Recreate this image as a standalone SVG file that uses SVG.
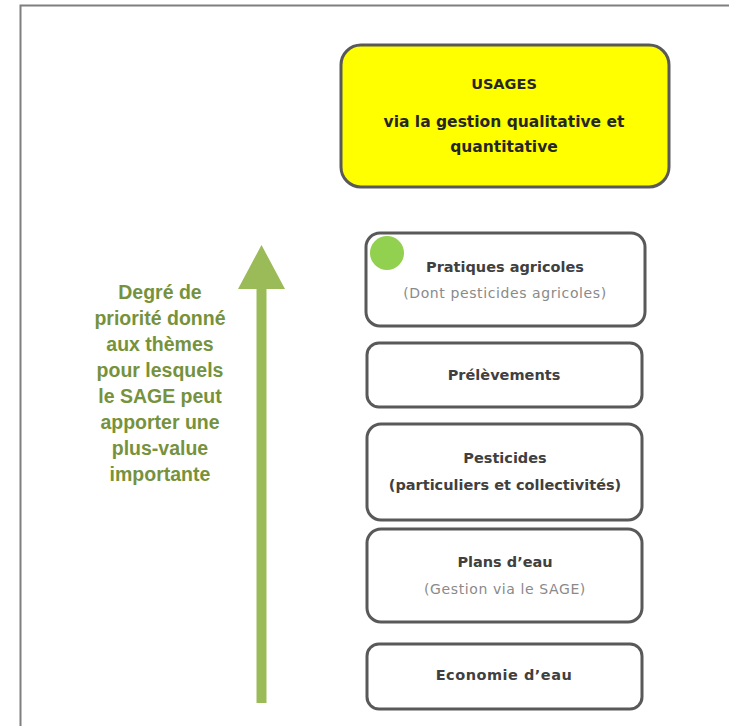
<svg xmlns="http://www.w3.org/2000/svg" width="729" height="726" viewBox="0 0 729 726">
<style>
.box{fill:#fff;stroke:#595959;stroke-width:3}
.t{font-family:"DejaVu Sans",sans-serif;font-size:14.5px;font-weight:bold;fill:#404040;text-anchor:middle}
.s{font-family:"DejaVu Sans",sans-serif;font-size:14px;letter-spacing:0.6px;fill:#8a8a8a;text-anchor:middle}
.u{font-family:"DejaVu Sans",sans-serif;font-size:15.5px;font-weight:bold;fill:#262626;text-anchor:middle}
.g{font-family:"Liberation Sans",sans-serif;font-size:19.5px;font-weight:bold;fill:#76923c;text-anchor:middle}
</style>
<rect width="729" height="726" fill="#fff"/>
<path d="M20.5 726V5.5H729" fill="none" stroke="#7f7f7f" stroke-width="2"/>
<g id="usages">
<rect x="341" y="45" width="328" height="142" rx="20" fill="#ffff00" stroke="#595959" stroke-width="3"/>
<text class="u" x="504" y="89" style="font-size:14.5px">USAGES</text>
<text class="u" x="504" y="127">via la gestion qualitative et</text>
<text class="u" x="504" y="152">quantitative</text>
</g>
<g id="pratiques">
<rect class="box" x="366" y="233" width="279" height="93" rx="14"/>
<circle cx="387" cy="253" r="17" fill="#92d050"/>
<text class="t" x="505" y="272">Pratiques agricoles</text>
<text class="s" x="505" y="298">(Dont pesticides agricoles)</text>
</g>
<g id="prelevements">
<rect class="box" x="367" y="343" width="275" height="64" rx="12"/>
<text class="t" x="504" y="380">Prélèvements</text>
</g>
<g id="pesticides">
<rect class="box" x="367" y="424" width="275" height="96" rx="14"/>
<text class="t" x="505" y="463">Pesticides</text>
<text class="t" x="505" y="490">(particuliers et collectivités)</text>
</g>
<g id="plans">
<rect class="box" x="367" y="529" width="275" height="93" rx="14"/>
<text class="t" x="505" y="567">Plans d’eau</text>
<text class="s" x="505" y="594">(Gestion via le SAGE)</text>
</g>
<g id="economie">
<rect class="box" x="367" y="644" width="275" height="65" rx="12"/>
<text class="t" x="504" y="680" style="letter-spacing:0.5px">Economie d’eau</text>
</g>
<g id="connectors">
<path d="M256.5 703V289H238L261.5 245L285 289H266.5V703Z" fill="#9bbb59"/>
</g>
<g id="label">
<text class="g" x="160" y="299">Degré de</text>
<text class="g" x="160" y="325">priorité donné</text>
<text class="g" x="160" y="351">aux thèmes</text>
<text class="g" x="160" y="377">pour lesquels</text>
<text class="g" x="160" y="403">le SAGE peut</text>
<text class="g" x="160" y="429">apporter une</text>
<text class="g" x="160" y="455">plus-value</text>
<text class="g" x="160" y="481">importante</text>
</g>
</svg>
